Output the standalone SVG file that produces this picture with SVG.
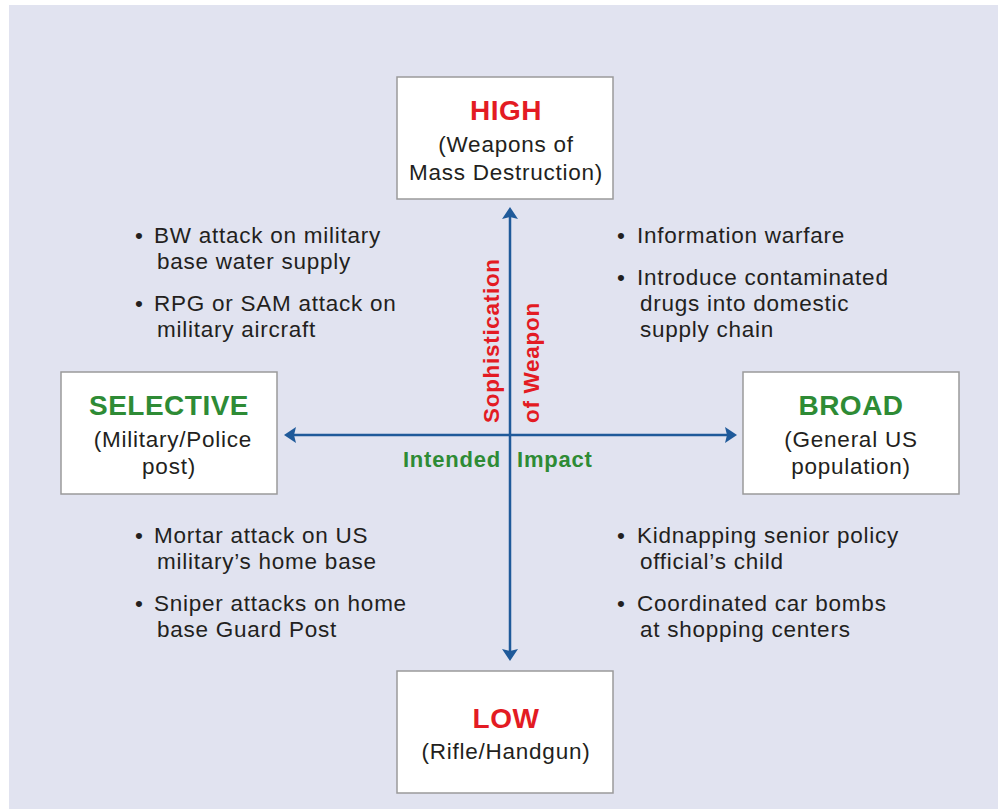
<svg xmlns="http://www.w3.org/2000/svg" width="998" height="809" viewBox="0 0 998 809">
<style>
.box{fill:#fff;stroke:#9a9a9a;stroke-width:1.5}
.t{font-family:"Liberation Sans",Arial,sans-serif;font-size:22.5px;letter-spacing:0.75px;fill:#231f20}
.c{text-anchor:middle}
.hr{font-family:"Liberation Sans",Arial,sans-serif;font-weight:bold;font-size:28px;letter-spacing:0.5px;fill:#e31b23;text-anchor:middle}
.hg{font-family:"Liberation Sans",Arial,sans-serif;font-weight:bold;font-size:28px;letter-spacing:0.5px;fill:#2e8b35;text-anchor:middle}
.ax{stroke:#1f5a9a;stroke-width:2.5;fill:none}
.ah{fill:#1f5a9a}
.lr{font-family:"Liberation Sans",Arial,sans-serif;font-weight:bold;font-size:22.5px;letter-spacing:0.7px;fill:#e31b23}
.lg{font-family:"Liberation Sans",Arial,sans-serif;font-weight:bold;font-size:22px;letter-spacing:0.8px;fill:#2e8b35}
</style>
<rect x="0" y="0" width="998" height="809" fill="#ffffff"/>
<rect x="9" y="5" width="989" height="804" fill="#e1e3f0"/>
<g id="connectors">
<line class="ax" x1="510" y1="216" x2="510" y2="652"/>
<line class="ax" x1="293" y1="435" x2="728" y2="435"/>
<polygon class="ah" points="510,207 502,219 510,217 518,219"/>
<polygon class="ah" points="510,661 502,649 510,651 518,649"/>
<polygon class="ah" points="284,435 296,427 294,435 296,443"/>
<polygon class="ah" points="737,435 725,427 727,435 725,443"/>
</g>
<g id="high">
<rect class="box" x="397" y="77" width="216" height="122"/>
<text class="hr" x="506" y="120">HIGH</text>
<text class="t c" x="506" y="152">(Weapons of</text>
<text class="t c" x="506" y="180">Mass Destruction)</text>
</g>
<g id="selective">
<rect class="box" x="61" y="372" width="216" height="122"/>
<text class="hg" x="169" y="415">SELECTIVE</text>
<text class="t c" x="173" y="447">(Military/Police</text>
<text class="t c" x="169" y="474">post)</text>
</g>
<g id="broad">
<rect class="box" x="743" y="372" width="216" height="122"/>
<text class="hg" x="851" y="415">BROAD</text>
<text class="t c" x="851" y="447">(General US</text>
<text class="t c" x="851" y="474">population)</text>
</g>
<g id="low">
<rect class="box" x="397" y="671" width="216" height="122"/>
<text class="hr" x="506" y="728">LOW</text>
<text class="t c" x="506" y="759">(Rifle/Handgun)</text>
</g>
<g id="axis-labels">
<text class="lr" transform="translate(499,423) rotate(-90)">Sophistication</text>
<text class="lr" transform="translate(539,423) rotate(-90)">of Weapon</text>
<text class="lg" x="501" y="467" text-anchor="end">Intended</text>
<text class="lg" x="517" y="467">Impact</text>
</g>
<g id="top-left">
<text class="t" x="135" y="243">•</text><text class="t" x="154" y="243">BW attack on military</text>
<text class="t" x="157" y="269">base water supply</text>
<text class="t" x="135" y="311">•</text><text class="t" x="154" y="311">RPG or SAM attack on</text>
<text class="t" x="157" y="337">military aircraft</text>
</g>
<g id="top-right">
<text class="t" x="617" y="243">•</text><text class="t" x="637" y="243">Information warfare</text>
<text class="t" x="617" y="285">•</text><text class="t" x="637" y="285">Introduce contaminated</text>
<text class="t" x="640" y="311">drugs into domestic</text>
<text class="t" x="640" y="337">supply chain</text>
</g>
<g id="bottom-left">
<text class="t" x="135" y="543">•</text><text class="t" x="154" y="543">Mortar attack on US</text>
<text class="t" x="157" y="569">military’s home base</text>
<text class="t" x="135" y="611">•</text><text class="t" x="154" y="611">Sniper attacks on home</text>
<text class="t" x="157" y="637">base Guard Post</text>
</g>
<g id="bottom-right">
<text class="t" x="617" y="543">•</text><text class="t" x="637" y="543">Kidnapping senior policy</text>
<text class="t" x="640" y="569">official’s child</text>
<text class="t" x="617" y="611">•</text><text class="t" x="637" y="611">Coordinated car bombs</text>
<text class="t" x="640" y="637">at shopping centers</text>
</g>
</svg>
